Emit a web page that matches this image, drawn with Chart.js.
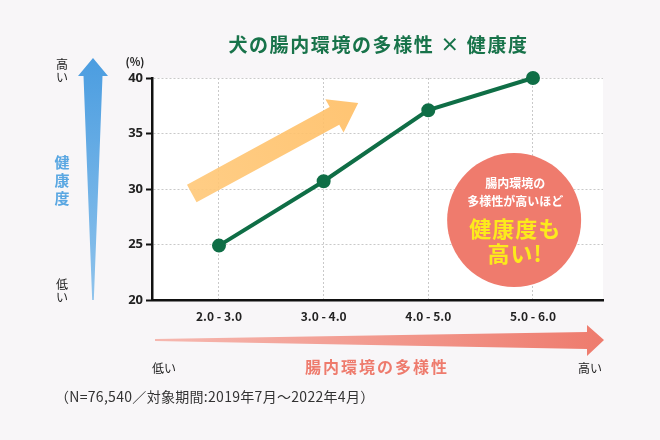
<!DOCTYPE html>
<html lang="ja">
<head>
<meta charset="utf-8">
<script src="https://cdn.jsdelivr.net/npm/chart.js@4.4.1/dist/chart.umd.min.js"></script>
<style>
  html, body { margin: 0; padding: 0; background: #f8f6f8; }
  #wrap { width: 660px; height: 440px; }
</style>
</head>
<body>
<div id="wrap"><canvas id="kenkoChart" width="660" height="440"></canvas></div>
<script>
// === Daten ===
const categories = ['2.0 - 3.0', '3.0 - 4.0', '4.0 - 5.0', '5.0 - 6.0'];
const healthRate = [24.9, 30.7, 37.1, 40.0];
const yTicks = [20, 25, 30, 35, 40];

const JP = '"Noto Sans CJK JP", "Noto Sans", sans-serif';
const GREEN = '#0f6e46';
const SALMON = '#ee7b6d';

function vText(ctx, str, x, y, step) {
  [...str].forEach((ch, i) => ctx.fillText(ch, x, y + i * step));
}

// Hintergrund + weisse Plotflaeche
const bgPlugin = {
  id: 'bg',
  beforeDraw(chart) {
    const { ctx, chartArea: a } = chart;
    ctx.save();
    ctx.fillStyle = '#f8f6f8';
    ctx.fillRect(0, 0, chart.width, chart.height);
    ctx.fillStyle = '#ffffff';
    ctx.fillRect(a.left, a.top, a.right - a.left, a.bottom - a.top);
    ctx.restore();
  }
};

// orangener Pfeil hinter der Linie
const orangeArrow = {
  id: 'orangeArrow',
  beforeDatasetsDraw(chart) {
    const { ctx, scales: { x, y } } = chart;
    const sx = x.getPixelForValue(-0.26), sy = y.getPixelForValue(29.6);
    const tx = x.getPixelForValue(1.33), ty = y.getPixelForValue(37.75);
    const len = Math.hypot(tx - sx, ty - sy);
    const ux = (tx - sx) / len, uy = (ty - sy) / len;
    const nx = -uy, ny = ux;
    const hw = 10, headLen = 27, headHw = 19;
    const bx = tx - ux * headLen, by = ty - uy * headLen;
    const g = ctx.createLinearGradient(sx, sy, tx, ty);
    g.addColorStop(0, 'rgba(255,200,120,0.9)');
    g.addColorStop(1, 'rgba(255,190,100,0.9)');
    ctx.save();
    ctx.fillStyle = g;
    ctx.beginPath();
    ctx.moveTo(sx + nx * hw, sy + ny * hw);
    ctx.lineTo(bx + nx * hw, by + ny * hw);
    ctx.lineTo(bx + nx * headHw, by + ny * headHw);
    ctx.lineTo(tx, ty);
    ctx.lineTo(bx - nx * headHw, by - ny * headHw);
    ctx.lineTo(bx - nx * hw, by - ny * hw);
    ctx.lineTo(sx - nx * hw, sy - ny * hw);
    ctx.closePath();
    ctx.fill();
    ctx.restore();
  }
};

// Deko: Titel, Pfeile, Kreis, Fussnote
const deko = {
  id: 'deko',
  afterDraw(chart) {
    const { ctx, chartArea: a, scales: { x, y } } = chart;
    ctx.save();
    ctx.textAlign = 'center';
    ctx.textBaseline = 'middle';

    // Titel
    ctx.fillStyle = '#18734a';
    ctx.font = 'bold 19px ' + JP;
    ctx.letterSpacing = '1.6px';
    ctx.fillText('犬の腸内環境の多様性 × 健康度', (a.left + a.right) / 2 + 1, 45);
    ctx.letterSpacing = '0px';

    // (%)
    ctx.fillStyle = '#222';
    ctx.font = 'bold 11px ' + JP;
    ctx.fillText('(%)', 135, 62);

    // blauer Pfeil links
    const cx = 93;
    const gb = ctx.createLinearGradient(0, 58, 0, a.bottom);
    gb.addColorStop(0, '#4b9de0');
    gb.addColorStop(1, '#8fc3ec');
    ctx.fillStyle = gb;
    ctx.beginPath();
    ctx.moveTo(cx, 58);
    ctx.lineTo(cx + 15, 76);
    ctx.lineTo(cx + 9.5, 76);
    ctx.lineTo(cx + 0.8, a.bottom);
    ctx.lineTo(cx - 0.8, a.bottom);
    ctx.lineTo(cx - 9.5, 76);
    ctx.lineTo(cx - 15, 76);
    ctx.closePath();
    ctx.fill();

    ctx.fillStyle = '#222';
    ctx.font = '12px ' + JP;
    vText(ctx, '高い', 62, 64, 13);
    vText(ctx, '低い', 62, 284, 13);
    ctx.fillStyle = '#5aa7e2';
    ctx.font = 'bold 15px ' + JP;
    vText(ctx, '健康度', 62, 162, 18);

    // roter Pfeil unten
    const ay = 340;
    const gr = ctx.createLinearGradient(155, 0, 604, 0);
    gr.addColorStop(0, '#f6b8b0');
    gr.addColorStop(1, SALMON);
    ctx.fillStyle = gr;
    ctx.beginPath();
    ctx.moveTo(155, ay - 1);
    ctx.lineTo(587, ay - 8);
    ctx.lineTo(587, ay - 15);
    ctx.lineTo(604, ay);
    ctx.lineTo(587, ay + 16);
    ctx.lineTo(587, ay + 9);
    ctx.lineTo(155, ay + 1);
    ctx.closePath();
    ctx.fill();

    ctx.fillStyle = '#222';
    ctx.font = '12px ' + JP;
    ctx.fillText('低い', 164, 368);
    ctx.fillText('高い', 590, 368);
    ctx.fillStyle = SALMON;
    ctx.font = 'bold 16px ' + JP;
    ctx.letterSpacing = '2px';
    ctx.fillText('腸内環境の多様性', 377, 367);
    ctx.letterSpacing = '0px';

    // Kreis
    const kx = x.getPixelForValue(2.82), ky = y.getPixelForValue(27.2);
    ctx.fillStyle = '#ef7b6d';
    ctx.beginPath();
    ctx.arc(kx, ky, 67, 0, Math.PI * 2);
    ctx.fill();
    ctx.fillStyle = '#ffffff';
    ctx.font = 'bold 12px ' + JP;
    ctx.fillText('腸内環境の', kx + 1, 183);
    ctx.fillText('多様性が高いほど', kx + 1, 201);
    ctx.fillStyle = '#fcea1c';
    ctx.font = 'bold 22px ' + JP;
    ctx.letterSpacing = '1px';
    ctx.fillText('健康度も', kx + 1, 229);
    ctx.fillText('高い!', kx + 1, 254);
    ctx.letterSpacing = '0px';

    // Fussnote
    ctx.fillStyle = '#333';
    ctx.font = '14px ' + JP;
    ctx.textAlign = 'left';
    ctx.letterSpacing = '0.3px';
    ctx.fillText('（N=76,540／対象期間:2019年7月〜2022年4月）', 55, 397);
    ctx.letterSpacing = '0px';
    ctx.restore();
  }
};

const ctx = document.getElementById('kenkoChart').getContext('2d');
new Chart(ctx, {
  type: 'line',
  data: {
    datasets: [{
      label: '健康度',
      data: categories.map((c, i) => ({ x: i, y: healthRate[i] })),
      borderColor: GREEN,
      backgroundColor: GREEN,
      borderWidth: 4,
      pointRadius: 5,
      pointHoverRadius: 5,
      tension: 0,
      fill: false,
      clip: false
    }]
  },
  options: {
    responsive: false,
    animation: false,
    layout: { padding: { top: 78, right: 57, left: 0, bottom: 0 } },
    scales: {
      x: {
        type: 'linear',
        min: -0.64,
        max: 3.669,
        afterBuildTicks: s => { s.ticks = categories.map((c, i) => ({ value: i })); },
        afterFit: s => { s.height = 140; },
        ticks: {
          callback: v => categories[v],
          color: '#222',
          font: { family: JP, size: 12, weight: 'bold' },
          padding: 9,
          maxRotation: 0
        },
        grid: { color: '#c9c9c9', lineWidth: 1, drawTicks: false },
        border: { color: '#111', width: 2.5, dash: [2, 2] }
      },
      y: {
        min: 20,
        max: 40,
        afterBuildTicks: s => { s.ticks = yTicks.map(v => ({ value: v })); },
        afterFit: s => { s.width = 152; },
        ticks: {
          color: '#222',
          font: { family: '"Noto Sans", sans-serif', size: 13, weight: 'bold' },
          padding: 3
        },
        grid: {
          color: '#c9c9c9', lineWidth: 1,
          tickLength: 6, tickColor: '#111', tickWidth: 2, tickBorderDash: []
        },
        border: { color: '#111', width: 2.5, dash: [2, 2] }
      }
    },
    plugins: {
      legend: { display: false },
      tooltip: { enabled: false },
      title: { display: false }
    }
  },
  plugins: [bgPlugin, orangeArrow, deko]
});
</script>
</body>
</html>
